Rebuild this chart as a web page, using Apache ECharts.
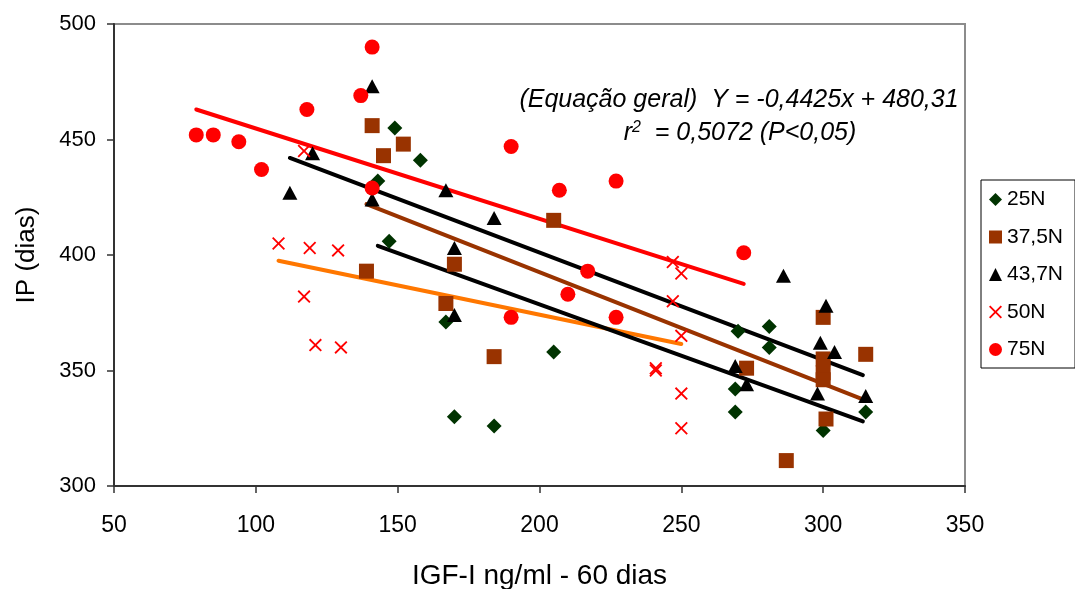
<!DOCTYPE html>
<html>
<head>
<meta charset="utf-8">
<script src="https://cdn.jsdelivr.net/npm/echarts@6/dist/echarts.min.js"></script>
<style>
html,body{margin:0;padding:0;background:#fff;}
#c{width:1075px;height:589px;}
</style>
</head>
<body>
<div id="c"></div>
<script>
// ---- data ----
const seriesNames = ['25N', '37,5N', '43,7N', '50N', '75N'];

const pts25N = [[149,455],[143,432],[147,406],[158,441],[167,371],[170,330],[184,326],[205,358],
  [270,367],[281,369],[281,360],[269,342],[269,332],[300,324],[315,332]];
const pts37N = [[141,456],[145,443],[152,448],[205,415],[139,393],[170,396],[167,379],[184,356],
  [300,373],[315,357],[273,351],[300,355],[300,349],[300,346],[301,329],[287,311]];
const pts43N = [[141,473],[120,444],[112,427],[141,424],[167,428],[184,416],[170,403],[170,374],
  [286,391],[301,378],[299,362],[304,358],[269,352],[273,344],[298,340],[315,339]];
const pts50N = [[117,445],[108,405],[119,403],[129,402],[117,382],[121,361],[130,360],[247,397],
  [250,392],[247,380],[250,365],[241,351],[241,350],[250,340],[250,325]];
const pts75N = [[79,452],[85,452],[94,449],[102,437],[118,463],[137,469],[141,490],[141,429],
  [190,447],[207,428],[227,432],[217,393],[210,383],[190,373],[227,373],[272,401]];

// trend lines (end points)
const trend25N = [[143,404],[314,328]];
const trend37N = [[139,422],[314,337.5]];
const trend43N = [[112,442],[314,348]];
const trend50N = [[108,397.5],[250,361.5]];
const trend75N = [[79,463],[272,387.5]];

const xTicks = [50, 100, 150, 200, 250, 300, 350];
const yTicks = [300, 350, 400, 450, 500];

const eqLine1 = '(Equação geral)  Y = -0,4425x + 480,31';
const eqLine2 = '{t|r}{s|2}{t|  = 0,5072 (P<0,05)}';

// ---- chart ----
const FONT = 'Liberation Sans, Arial, Helvetica, sans-serif';
const crossPath = 'path://M0,1 L1,0 L5,4 L9,0 L10,1 L6,5 L10,9 L9,10 L5,6 L1,10 L0,9 L4,5 Z';

const chart = echarts.init(document.getElementById('c'), null, {renderer: 'canvas'});

function scatter(name, data, symbol, size, color) {
  return {
    name: name, type: 'scatter', data: data, symbol: symbol, symbolSize: size,
    itemStyle: {color: color, opacity: 1}, z: 3, silent: true, animation: false
  };
}
function trend(name, data, color) {
  return {
    name: name, type: 'line', data: data, showSymbol: false, symbol: 'none',
    lineStyle: {color: color, width: 4, cap: 'round'}, z: 2, silent: true, animation: false
  };
}

const option = {
  animation: false,
  backgroundColor: '#fff',
  textStyle: {fontFamily: FONT},
  grid: {left: 114, right: 110, top: 24, bottom: 103, show: true,
    containLabel: false, outerBoundsMode: 'none',
    borderColor: '#8c8c8c', borderWidth: 2, backgroundColor: '#fff'},
  xAxis: {
    type: 'value', min: xTicks[0], max: xTicks[xTicks.length - 1], interval: 50,
    name: 'IGF-I ng/ml - 60 dias', nameLocation: 'middle', nameGap: 76,
    nameTextStyle: {fontSize: 28, color: '#000', fontFamily: FONT},
    axisLine: {show: true, lineStyle: {color: '#333', width: 2}},
    axisTick: {show: true, length: 7, inside: false, lineStyle: {color: '#333', width: 1.5}},
    axisLabel: {fontSize: 23, color: '#000', margin: 28, fontFamily: FONT},
    splitLine: {show: false}
  },
  yAxis: {
    type: 'value', min: yTicks[0], max: yTicks[yTicks.length - 1], interval: 50,
    name: 'IP (dias)', nameLocation: 'middle', nameGap: 74, nameRotate: 90,
    nameTextStyle: {fontSize: 26, color: '#000', fontFamily: FONT},
    axisLine: {show: true, lineStyle: {color: '#333', width: 2}},
    axisTick: {show: true, length: 7, inside: false, lineStyle: {color: '#333', width: 1.5}},
    axisLabel: {fontSize: 22, color: '#000', margin: 18, fontFamily: FONT},
    splitLine: {show: false}
  },
  legend: {
    data: seriesNames,
    orient: 'vertical', left: 981, top: 180,
    padding: [9, 12, 8, 8],
    itemWidth: 13, itemHeight: 13, itemGap: 16.5,
    backgroundColor: '#fff', borderColor: '#000', borderWidth: 1, borderRadius: 0,
    textStyle: {fontSize: 21, color: '#000', fontFamily: FONT, lineHeight: 20, padding: [0, 0, 0, 0]},
    itemStyle: {borderWidth: 0},
    selectedMode: false
  },
  graphic: [
    {type: 'text', silent: true,
      style: {text: eqLine1, x: 739, y: 100, textAlign: 'center', textVerticalAlign: 'middle',
        font: 'italic 25px ' + FONT, fill: '#000'}},
    {type: 'text', silent: true,
      style: {text: eqLine2, x: 740, y: 133, textAlign: 'center', textVerticalAlign: 'middle',
        fill: '#000',
        rich: {t: {fontSize: 25, fontStyle: 'italic', fontFamily: FONT, color: '#000'},
               s: {fontSize: 16, fontStyle: 'italic', fontFamily: FONT, color: '#000', verticalAlign: 'top', padding: [0, 0, 10, 0]}}}}
  ],
  series: [
    trend('t75', trend75N, '#ff0000'),
    trend('t50', trend50N, '#ff7700'),
    trend('t43', trend43N, '#000000'),
    trend('t37', trend37N, '#993300'),
    trend('t25', trend25N, '#000000'),
    scatter('25N', pts25N, 'diamond', 15, '#003300'),
    scatter('37,5N', pts37N, 'rect', 15, '#993300'),
    scatter('43,7N', pts43N, 'triangle', [15, 14], '#000000'),
    scatter('50N', pts50N, crossPath, 13, '#ff0000'),
    scatter('75N', pts75N, 'circle', 15, '#ff0000')
  ]
};
chart.setOption(option);
</script>
</body>
</html>
